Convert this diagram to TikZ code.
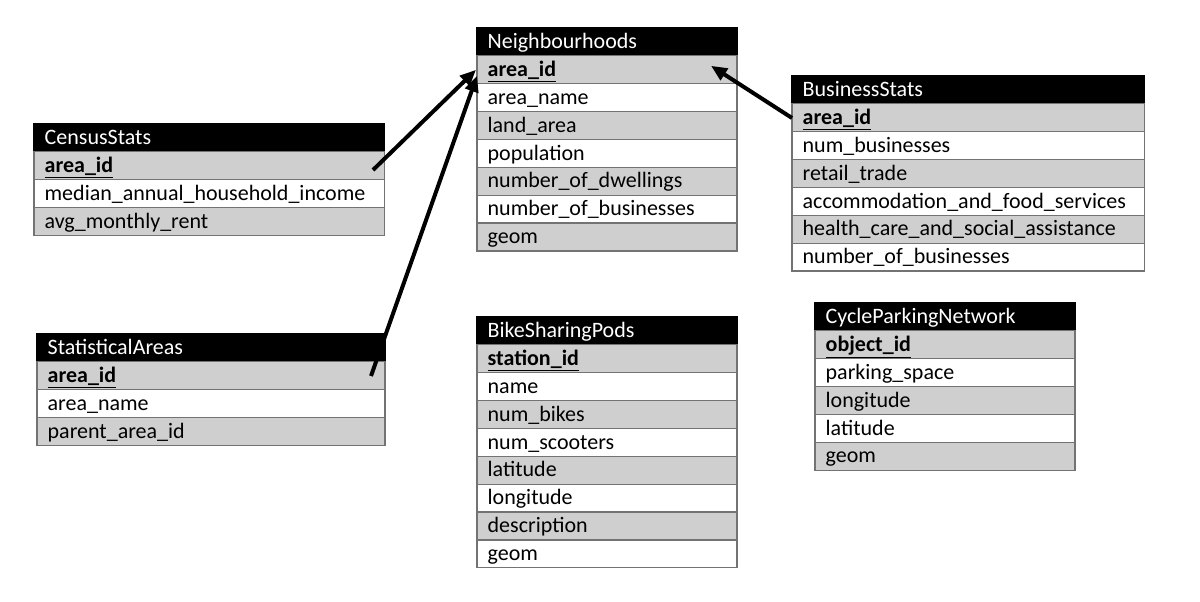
\documentclass[tikz,border=0pt]{standalone}
\usepackage{fontspec}
\setmainfont{Carlito}
\usetikzlibrary{positioning,arrows.meta,calc}

\tikzset{
  tbl/.style={draw=black!55, line width=0.9pt, minimum height=20.9pt,
    text height=12.5pt, text depth=2.5pt, outer sep=0pt,
    inner ysep=0pt, inner xsep=8pt, anchor=north west, align=left,
    font=\fontsize{16.5}{18}\selectfont},
  hd/.style={tbl, fill=black, draw=black, text=white},
  gr/.style={tbl, fill=black!19},
  wt/.style={tbl, fill=white},
  conn/.style={line width=3pt, -{Triangle[length=12pt,width=10pt]}},
}

\begin{document}
\begin{tikzpicture}[x=0.75pt, y=-0.75pt]
    \useasboundingbox (0,0) rectangle (1200,602);

    % Neighbourhoods
    \begin{scope}[every node/.append style={text width=179pt}]
    \node[hd] (nb-h) at (477,28) {Neighbourhoods};
    \node[gr, below=0pt of nb-h] (nb-1) {\underline{\textbf{area\_id}}};
    \node[wt, below=0pt of nb-1] (nb-2) {area\_name};
    \node[gr, below=0pt of nb-2] (nb-3) {land\_area};
    \node[wt, below=0pt of nb-3] (nb-4) {population};
    \node[gr, below=0pt of nb-4] (nb-5) {number\_of\_dwellings};
    \node[wt, below=0pt of nb-5] (nb-6) {number\_of\_businesses};
    \node[gr, below=0pt of nb-6] (nb-7) {geom};
    \end{scope}

    % CensusStats
    \begin{scope}[every node/.append style={text width=247pt}]
    \node[hd] (cs-h) at (34,124) {CensusStats};
    \node[gr, below=0pt of cs-h] (cs-1) {\underline{\textbf{area\_id}}};
    \node[wt, below=0pt of cs-1] (cs-2) {median\_annual\_household\_income};
    \node[gr, below=0pt of cs-2] (cs-3) {avg\_monthly\_rent};
    \end{scope}

    % BusinessStats
    \begin{scope}[every node/.append style={text width=248.5pt}]
    \node[hd] (bs-h) at (792,76) {BusinessStats};
    \node[gr, below=0pt of bs-h] (bs-1) {\underline{\textbf{area\_id}}};
    \node[wt, below=0pt of bs-1] (bs-2) {num\_businesses};
    \node[gr, below=0pt of bs-2] (bs-3) {retail\_trade};
    \node[wt, below=0pt of bs-3] (bs-4) {accommodation\_and\_food\_services};
    \node[gr, below=0pt of bs-4] (bs-5) {health\_care\_and\_social\_assistance};
    \node[wt, below=0pt of bs-5] (bs-6) {number\_of\_businesses};
    \end{scope}

    % StatisticalAreas
    \begin{scope}[every node/.append style={text width=245pt}]
    \node[hd] (sa-h) at (37,334) {StatisticalAreas};
    \node[gr, below=0pt of sa-h] (sa-1) {\underline{\textbf{area\_id}}};
    \node[wt, below=0pt of sa-1] (sa-2) {area\_name};
    \node[gr, below=0pt of sa-2] (sa-3) {parent\_area\_id};
    \end{scope}

    % BikeSharingPods
    \begin{scope}[every node/.append style={text width=179pt}]
    \node[hd] (bp-h) at (477,317) {BikeSharingPods};
    \node[gr, below=0pt of bp-h] (bp-1) {\underline{\textbf{station\_id}}};
    \node[wt, below=0pt of bp-1] (bp-2) {name};
    \node[gr, below=0pt of bp-2] (bp-3) {num\_bikes};
    \node[wt, below=0pt of bp-3] (bp-4) {num\_scooters};
    \node[gr, below=0pt of bp-4] (bp-5) {latitude};
    \node[wt, below=0pt of bp-5] (bp-6) {longitude};
    \node[gr, below=0pt of bp-6] (bp-7) {description};
    \node[wt, below=0pt of bp-7] (bp-8) {geom};
    \end{scope}

    % CycleParkingNetwork
    \begin{scope}[every node/.append style={text width=179pt}]
    \node[hd] (cp-h) at (815,303) {CycleParkingNetwork};
    \node[gr, below=0pt of cp-h] (cp-1) {\underline{\textbf{object\_id}}};
    \node[wt, below=0pt of cp-1] (cp-2) {parking\_space};
    \node[gr, below=0pt of cp-2] (cp-3) {longitude};
    \node[wt, below=0pt of cp-3] (cp-4) {latitude};
    \node[gr, below=0pt of cp-4] (cp-5) {geom};
    \end{scope}

    % links to Neighbourhoods
    \coordinate (cs-from) at (373,170);
    \coordinate (sa-from) at (371,376);
    \coordinate (bs-from) at (792,118);
    \draw[conn] (cs-from) -- ($(nb-1.west)+(-1,0)$);
    \draw[conn] (sa-from) -- ($(nb-1.west)+(0,6)$);
    \draw[conn] (bs-from) -- ($(nb-1.east)+(-26,-4)$);
\end{tikzpicture}
\end{document}
